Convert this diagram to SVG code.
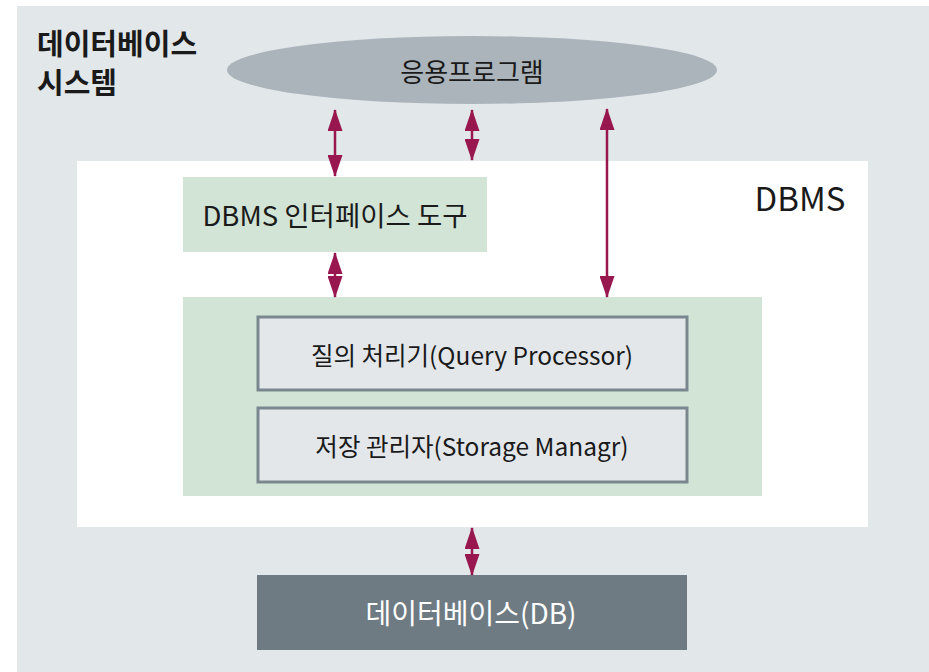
<svg xmlns="http://www.w3.org/2000/svg" width="929" height="672" viewBox="0 0 929 672">
<defs>
<style>
.t{font-family:"Noto Sans CJK KR","Noto Sans",sans-serif;fill:#1a1a1a;text-anchor:middle;dominant-baseline:central}
.c{stroke:#98174f;stroke-width:2.5;fill:none;marker-start:url(#ah);marker-end:url(#ah)}
.inner{fill:#e3e7ea;stroke:#7b878e;stroke-width:3}
</style>
<marker id="ah" markerUnits="userSpaceOnUse" viewBox="0 0 22 15" refX="21" refY="7.5" markerWidth="22" markerHeight="15" orient="auto-start-reverse">
<path d="M0,0 L22,7.5 L0,15 Z" fill="#98174f"/>
</marker>
</defs>
<rect x="0" y="0" width="929" height="672" fill="#ffffff"/>
<g id="system">
<rect x="17" y="6" width="912" height="666" fill="#e2e7ea"/>
<text class="t" x="37" y="42" style="text-anchor:start;font-size:29px;font-weight:bold">데이터베이스</text>
<text class="t" x="37" y="81" style="text-anchor:start;font-size:29px;font-weight:bold">시스템</text>
</g>
<g id="dbms">
<rect x="77" y="161" width="791" height="366" fill="#ffffff"/>
<text class="t" x="800" y="197" style="font-size:33px">DBMS</text>
</g>
<g id="app">
<ellipse cx="472" cy="70" rx="245" ry="34" fill="#abb4ba"/>
<text class="t" x="472" y="70" style="font-size:26px">응용프로그램</text>
</g>
<g id="interface">
<rect x="183" y="177" width="304" height="75" fill="#d2e4d6"/>
<text class="t" x="335" y="214" style="font-size:27.5px">DBMS 인터페이스 도구</text>
</g>
<g id="engine">
<rect x="183" y="297" width="579" height="199" fill="#d2e4d6"/>
</g>
<g id="query">
<rect class="inner" x="258" y="317" width="429" height="73"/>
<text class="t" x="472" y="354" style="font-size:24.5px">질의 처리기(Query Processor)</text>
</g>
<g id="storage">
<rect class="inner" x="258" y="408" width="429" height="74"/>
<text class="t" x="472" y="445" style="font-size:24.5px">저장 관리자(Storage Managr)</text>
</g>
<g id="db">
<rect x="257" y="575" width="430" height="75" fill="#6e7b83"/>
<text class="t" x="471" y="612" style="font-size:28px;fill:#ffffff">데이터베이스(DB)</text>
</g>
<g id="connectors">
<line class="c" x1="335" y1="110" x2="335" y2="176"/>
<line class="c" x1="472" y1="110" x2="472" y2="160"/>
<line class="c" x1="607" y1="109" x2="607" y2="297"/>
<line class="c" x1="335" y1="253" x2="335" y2="297"/>
<line class="c" x1="472" y1="528" x2="472" y2="575"/>
</g>
</svg>
